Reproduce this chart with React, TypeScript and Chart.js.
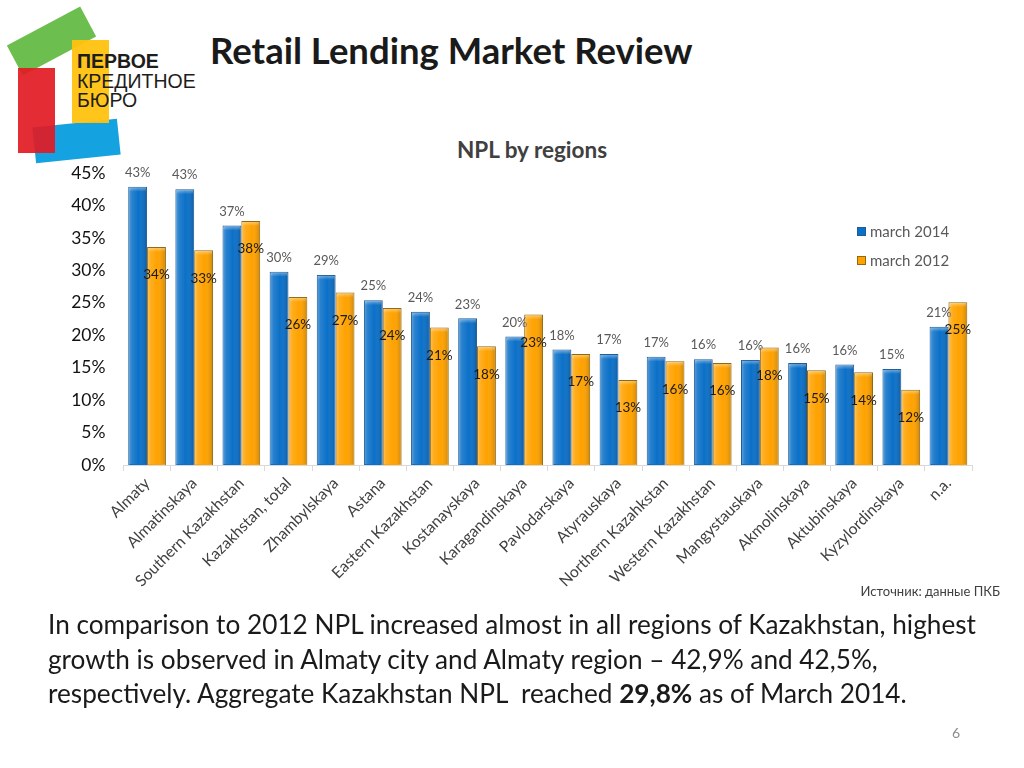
import React, { useEffect, useRef } from "react";
import { Chart, registerables } from "chart.js";

Chart.register(...registerables);

const categories = [
  "Almaty",
  "Almatinskaya",
  "Southern Kazakhstan",
  "Kazakhstan, total",
  "Zhambylskaya",
  "Astana",
  "Eastern Kazakhstan",
  "Kostanayskaya",
  "Karagandinskaya",
  "Pavlodarskaya",
  "Atyrauskaya",
  "Northern Kazahkstan",
  "Western Kazakhstan",
  "Mangystauskaya",
  "Akmolinskaya",
  "Aktubinskaya",
  "Kyzylordinskaya",
  "n.a.",
];
const march2014 = [42.9, 42.5, 36.9, 29.8, 29.3, 25.4, 23.6, 22.6, 19.8, 17.8, 17.1, 16.7, 16.3, 16.2, 15.7, 15.5, 14.8, 21.3];
const march2012 = [33.6, 33.1, 37.6, 25.9, 26.6, 24.2, 21.2, 18.3, 23.2, 17.1, 13.1, 16.0, 15.7, 18.1, 14.6, 14.3, 11.6, 25.1];
const seriesNames = ["march 2014", "march 2012"];
const yMin = 0;
const yMax = 45;
const yStep = 5;

const FONT = "Lato, 'Open Sans', sans-serif";

const decorPlugin = {
  id: "decor",
  afterDatasetsDraw(chart: any) {
    const ctx = chart.ctx;
    ctx.save();
    chart.data.datasets.forEach((ds: any, i: number) => {
      const meta = chart.getDatasetMeta(i);
      meta.data.forEach((bar: any, j: number) => {
        const { x, y, base, width } = bar.getProps(["x", "y", "base", "width"], true);
        const left = x - width / 2;
        const g = ctx.createLinearGradient(left, 0, left + width, 0);
        g.addColorStop(0, "rgba(255,255,255,0.35)");
        g.addColorStop(0.2, "rgba(255,255,255,0.12)");
        g.addColorStop(0.55, "rgba(255,255,255,0)");
        g.addColorStop(1, "rgba(0,0,0,0.2)");
        ctx.fillStyle = g;
        ctx.fillRect(left + 1, y + 1, width - 2, base - y - 2);
        const g2 = ctx.createLinearGradient(0, y, 0, y + 5);
        g2.addColorStop(0, "rgba(255,255,255,0.45)");
        g2.addColorStop(1, "rgba(255,255,255,0)");
        ctx.fillStyle = g2;
        ctx.fillRect(left + 1, y + 1, width - 2, 4);
        const v = ds.data[j];
        const txt = Math.round(v) + "%";
        ctx.textAlign = "center";
        ctx.textBaseline = "middle";
        if (i === 0) {
          ctx.font = `13px ${FONT}`;
          ctx.fillStyle = "#595959";
          ctx.fillText(txt, x, y - 14);
        } else {
          ctx.font = `13.5px ${FONT}`;
          ctx.fillStyle = "#1a1a1a";
          ctx.fillText(txt, x, y + 28);
        }
      });
    });
    ctx.restore();
  },
  afterDraw(chart: any) {
    const ctx = chart.ctx;
    ctx.save();
    const lx = 857;
    const ly = [232, 261];
    chart.data.datasets.forEach((ds: any, i: number) => {
      const yy = ly[i];
      ctx.fillStyle = ds.backgroundColor;
      ctx.fillRect(lx, yy - 5, 9, 9);
      ctx.strokeStyle = ds.borderColor;
      ctx.lineWidth = 1;
      ctx.strokeRect(lx + 0.5, yy - 4.5, 8, 8);
      ctx.font = `15px ${FONT}`;
      ctx.fillStyle = "#595959";
      ctx.textAlign = "left";
      ctx.textBaseline = "middle";
      ctx.fillText(ds.label, lx + 13, yy);
    });
    ctx.restore();
  },
};

function ChartCanvas() {
  const ref = useRef<HTMLCanvasElement | null>(null);
  useEffect(() => {
    if (!ref.current) return;
    const chart = new Chart(ref.current, {
      type: "bar",
      data: {
        labels: categories,
        datasets: [
          {
            label: seriesNames[0],
            data: march2014,
            backgroundColor: "#0B70C8",
            borderColor: "#1E5C9A",
            borderWidth: 1,
            categoryPercentage: 0.8,
            barPercentage: 1.0,
          },
          {
            label: seriesNames[1],
            data: march2012,
            backgroundColor: "#FFA200",
            borderColor: "#8F6A10",
            borderWidth: 1,
            categoryPercentage: 0.8,
            barPercentage: 1.0,
          },
        ],
      },
      options: {
        responsive: false,
        animation: false,
        layout: { padding: { left: 0, top: 173, right: 52, bottom: 0 } },
        plugins: {
          legend: { display: false },
          title: { display: false },
          tooltip: { enabled: false },
        },
        scales: {
          x: {
            grid: {
              display: true,
              drawOnChartArea: false,
              drawTicks: true,
              tickLength: 6,
              color: "#d9d9d9",
              offset: true,
            },
            border: { display: true, color: "#d9d9d9" },
            ticks: {
              minRotation: 45,
              maxRotation: 45,
              autoSkip: false,
              color: "#404040",
              font: { family: FONT, size: 15.7 },
              padding: 3,
            },
            afterFit: (s: any) => {
              s.height = 303;
            },
          },
          y: {
            min: yMin,
            max: yMax,
            ticks: {
              stepSize: yStep,
              callback: (v: any) => v + "%",
              color: "#111",
              font: { family: FONT, size: 17.5 },
              padding: 18,
            },
            grid: { display: false, drawTicks: false },
            border: { display: false },
            afterFit: (s: any) => {
              s.width = 123.5;
            },
          },
        },
      },
      plugins: [decorPlugin],
    });
    return () => chart.destroy();
  }, []);
  return (
    <canvas
      ref={ref}
      width={1024}
      height={768}
      style={{ position: "absolute", left: 0, top: 0, width: 1024, height: 768 }}
    />
  );
}

function Logo() {
  return (
    <div style={{ position: "absolute", left: 0, top: 0, width: 210, height: 170 }}>
      <div
        style={{
          position: "absolute",
          left: 51 - 41.5,
          top: 41 - 17,
          width: 83,
          height: 34,
          background: "#6CBE4F",
          transform: "rotate(-28deg)",
        }}
      />
      <div
        style={{
          position: "absolute",
          left: 76 - 42.5,
          top: 141 - 18,
          width: 85,
          height: 36,
          background: "#14A3E0",
          transform: "rotate(-6deg)",
        }}
      />
      <div
        style={{
          position: "absolute",
          left: 72,
          top: 40,
          width: 37,
          height: 83,
          background: "rgba(255,194,14,0.95)",
        }}
      />
      <div
        style={{
          position: "absolute",
          left: 18,
          top: 68,
          width: 37,
          height: 85,
          background: "rgba(226,26,36,0.92)",
        }}
      />
      <div
        style={{
          position: "absolute",
          left: 77,
          top: 52,
          fontFamily: "'Liberation Sans', Arial, sans-serif",
          fontSize: 19.5,
          lineHeight: "19.5px",
          color: "#1d1d1b",
          whiteSpace: "nowrap",
        }}
      >
        <div style={{ fontWeight: "bold" }}>ПЕРВОЕ</div>
        <div>КРЕДИТНОЕ</div>
        <div>БЮРО</div>
      </div>
    </div>
  );
}

export default function App() {
  return (
    <div
      style={{
        position: "fixed",
        left: 0,
        top: 0,
        width: 1024,
        height: 768,
        background: "#fff",
        overflow: "hidden",
        fontFamily: FONT,
      }}
    >
      <Logo />
      <div
        style={{
          position: "absolute",
          left: 210,
          top: 27,
          fontSize: 36.5,
          fontWeight: "bold",
          color: "#1a1a1a",
          whiteSpace: "nowrap",
          lineHeight: "46px",
        }}
      >
        Retail Lending Market Review
      </div>
      <div
        style={{
          position: "absolute",
          left: 0,
          width: 1064,
          top: 136,
          textAlign: "center",
          fontSize: 22.5,
          fontWeight: "bold",
          color: "#404040",
          lineHeight: "28px",
        }}
      >
        NPL by regions
      </div>
      <ChartCanvas />
      <div
        style={{
          position: "absolute",
          right: 24,
          top: 583,
          fontSize: 13,
          color: "#404040",
          whiteSpace: "nowrap",
          lineHeight: "16px",
        }}
      >
        Источник: данные ПКБ
      </div>
      <div
        style={{
          position: "absolute",
          left: 48,
          top: 607,
          fontSize: 26.2,
          color: "#1a1a1a",
          lineHeight: "34.5px",
          whiteSpace: "nowrap",
        }}
      >
        <div>In comparison to 2012 NPL increased almost in all regions of Kazakhstan, highest</div>
        <div>growth is observed in Almaty city and Almaty region – 42,9% and 42,5%,</div>
        <div>
          respectively. Aggregate Kazakhstan NPL&nbsp; reached <b>29,8%</b> as of March 2014.
        </div>
      </div>
      <div
        style={{
          position: "absolute",
          left: 952,
          top: 724,
          fontSize: 14,
          color: "#8c8c8c",
          lineHeight: "18px",
        }}
      >
        6
      </div>
    </div>
  );
}
